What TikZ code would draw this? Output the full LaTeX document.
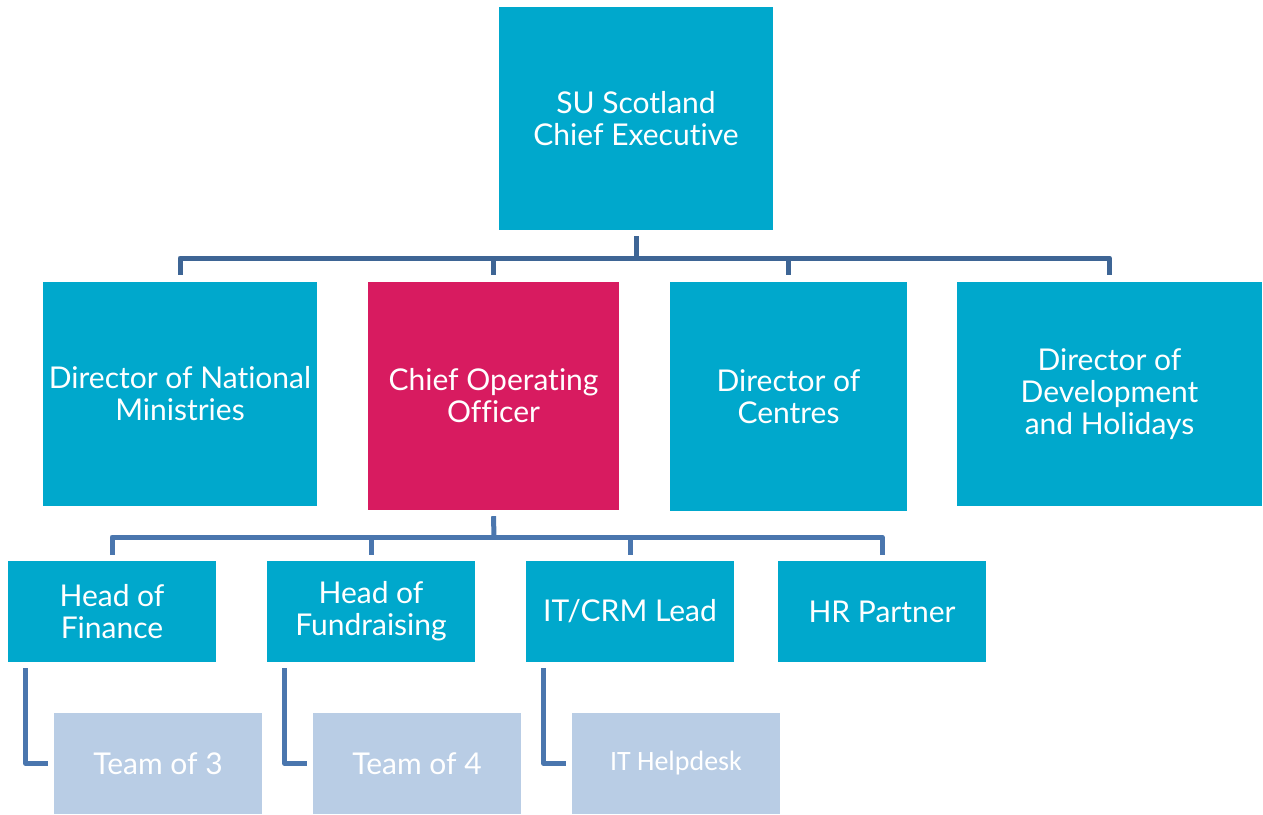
\documentclass[tikz,border=0pt]{standalone}
\usepackage{fontspec}
\setmainfont{Lato}[Ligatures={NoCommon,NoRare}]
\newfontfamily\calib{Carlito}
\definecolor{cyanbox}{HTML}{00A8CC}
\definecolor{magbox}{HTML}{D81B60}
\definecolor{lightbox}{HTML}{B9CDE5}
\definecolor{conntop}{HTML}{3E6595}
\definecolor{connlow}{HTML}{4A76AE}
\begin{document}
\begin{tikzpicture}[x=1pt,y=-1pt,
  box/.style={fill=cyanbox,draw=none,text=white,align=center,inner sep=0pt,
     font=\fontsize{30}{32}\selectfont},
  bigbox/.style={box,minimum width=274pt,minimum height=224pt},
  smallbox/.style={box,minimum width=208pt,minimum height=101pt},
  teambox/.style={smallbox,fill=lightbox},
  conn/.style={draw=conntop,line width=5pt,line join=round},
  connl/.style={draw=connlow,line width=5pt,line join=round}]
\useasboundingbox (0,0) rectangle (1263,814);
\node[bigbox,minimum height=223pt] (ceo) at (636,118.5) {SU Scotland\\Chief Executive};
\node[bigbox] (dnm) at (180,394) {Director of National\\Ministries};
\node[bigbox,fill=magbox,minimum width=251pt,minimum height=228pt] (coo) at (493.5,396) {Chief Operating\\Officer};
\node[bigbox,minimum width=237pt,minimum height=229pt] (dc) at (788.5,396.5) {Director of\\Centres};
\node[bigbox,minimum width=305pt] (ddh) at (1109.5,394) {Director of\\Development\\and Holidays};
\node[smallbox] (hf) at (112,611.5) {Head of\\Finance};
\node[smallbox] (hfr) at (371,611.5) {Head of\\Fundraising};
\node[smallbox] (it) at (630,611.5) {IT/CRM Lead};
\node[smallbox] (hr) at (882,611.5) {HR Partner};
\node[teambox] (t3) at (158,763.5) {Team of 3};
\node[teambox] (t4) at (417,763.5) {Team of 4};
\node[teambox,font=\calib\fontsize{28}{32}\selectfont] (ith) at (676,763.5) {IT Helpdesk};
\coordinate (bus1) at (636,258);
\coordinate (bus2) at (494,537);
% level 1
\draw[conn] ([yshift=-6pt]ceo.south) -- (bus1);
\draw[conn] ([yshift=7pt]dnm.north) |- (bus1) -| ([yshift=7pt]ddh.north);
\draw[conn] ([yshift=7pt]coo.north) -- (coo.north |- bus1);
\draw[conn] ([yshift=7pt]dc.north) -- (dc.north |- bus1);
% level 2
\draw[connl] ([yshift=-6pt]coo.south) -- (bus2);
\draw[connl] ([yshift=6pt]hf.north) |- (bus2) -| ([yshift=6pt]hr.north);
\draw[connl] ([yshift=6pt]hfr.north) -- (hfr.north |- bus2);
\draw[connl] ([yshift=6pt]it.north) -- (it.north |- bus2);
% level 3
\draw[connl] ([xshift=18pt,yshift=-6pt]hf.south west) |- ([xshift=-6pt]t3.west);
\draw[connl] ([xshift=18pt,yshift=-6pt]hfr.south west) |- ([xshift=-6pt]t4.west);
\draw[connl] ([xshift=18pt,yshift=-6pt]it.south west) |- ([xshift=-6pt]ith.west);
\end{tikzpicture}
\end{document}
